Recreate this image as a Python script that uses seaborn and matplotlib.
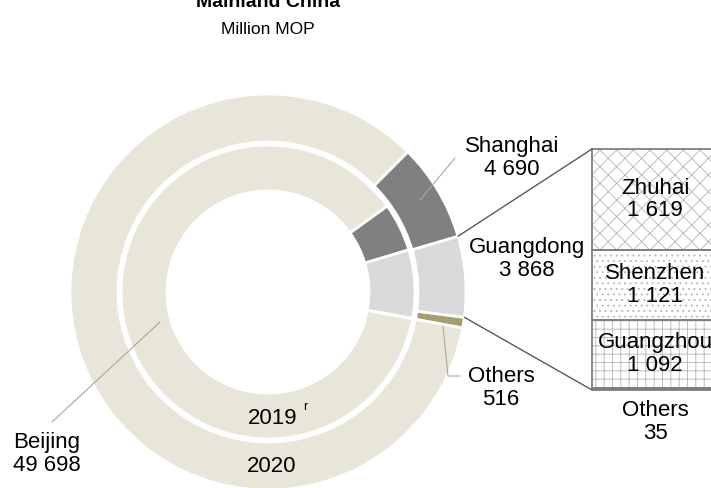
import numpy as np
import matplotlib
matplotlib.use("Agg")
import matplotlib.pyplot as plt
import seaborn as sns

# data
regions = ["Others", "Guangdong", "Shanghai", "Beijing"]
values_2020 = [516, 3868, 4690, 49698]
values_2019 = [25, 3750, 2650, 43500]   # estimated from the ring angles
region_colors = ["#A89F6E", "#D9D9D9", "#808080", "#E8E6D8"]

cities = ["Zhuhai", "Shenzhen", "Guangzhou", "Others"]
city_values = [1619, 1121, 1092, 35]
city_hatch = ["xx", "...", "++", ""]
city_fill = ["white", "white", "white", "#808080"]

def fmt(v):
    return f"{v:,}".replace(",", " ")

sns.set_theme(style="white")
plt.rcParams["font.family"] = ["Liberation Sans", "DejaVu Sans"]
plt.rcParams["text.color"] = "black"
plt.rcParams["hatch.linewidth"] = 0.6

W, H = 711, 488
fig = plt.figure(figsize=(W / 100, H / 100), dpi=100)
ax = fig.add_axes([0, 0, 1, 1])

cx, cy = 268, H - 292
start = -10.5

# outer ring = 2020, inner ring = 2019
ax.pie(values_2020, colors=region_colors, radius=198, center=(cx, cy),
       startangle=start, counterclock=True, frame=True,
       wedgeprops=dict(width=48, edgecolor="white", linewidth=2))
ax.pie(values_2019, colors=region_colors, radius=147, center=(cx, cy),
       startangle=start, counterclock=True, frame=True,
       wedgeprops=dict(width=46, edgecolor="white", linewidth=2))

# bar of pie
bar_x, bar_w = 655, 126
bar_bottom, bar_top = H - 390, H - 149
scale = (bar_top - bar_bottom) / sum(city_values)
heights = np.array(city_values[::-1]) * scale
bottoms = bar_bottom + np.concatenate([[0], np.cumsum(heights)[:-1]])
# hatch layer (light lines), then outline layer
ax.bar([bar_x] * 4, heights, bottom=bottoms, width=bar_w,
       color=city_fill[::-1], hatch=city_hatch[::-1],
       edgecolor="#b3b3b3", linewidth=0)
ax.bar([bar_x] * 4, heights, bottom=bottoms, width=bar_w,
       color="none", edgecolor="#7f7f7f", linewidth=1.3)

# connector lines from Guangdong slice to the bar
frac = np.cumsum(values_2020) / sum(values_2020)
a_low = np.deg2rad(start + frac[0] * 360)
a_high = np.deg2rad(start + frac[1] * 360)
ax.plot([cx + 198 * np.cos(a_high), bar_x - bar_w / 2], [cy + 198 * np.sin(a_high), bar_top],
        color="#595959", lw=1)
ax.plot([cx + 198 * np.cos(a_low), bar_x - bar_w / 2], [cy + 198 * np.sin(a_low), bar_bottom],
        color="#595959", lw=1)

fs = 16
# city labels
tops = bottoms + heights
for name, v, b, t in zip(cities[::-1], city_values[::-1], bottoms, tops):
    y = H - 422 if name == "Others" else (b + t) / 2
    ax.text(bar_x, y, f"{name}\n{fmt(v)}", ha="center", va="center",
            fontsize=fs, linespacing=1.1)

# region labels
lab_pos = {"Shanghai": (512, 158), "Guangdong": (527, 259),
           "Others": (501, 388), "Beijing": (47, 454)}
for name, v in zip(regions, values_2020):
    x, y = lab_pos[name]
    ax.text(x, H - y, f"{name}\n{fmt(v)}", ha="center", va="center",
            fontsize=fs, linespacing=1.1)

lc = "#a6a6a6"
ax.plot([455, 420], [H - 158, H - 200], color=lc, lw=0.8)
ax.plot([443, 448, 460], [H - 326, H - 376, H - 376], color=lc, lw=0.8)
ax.plot([52, 160], [H - 422, H - 322], color=lc, lw=0.8)

ax.text(273, H - 418, "2019", ha="center", va="center", fontsize=fs)
ax.text(305, H - 407, "r", ha="center", va="center", fontsize=9)
ax.text(272, H - 466, "2020", ha="center", va="center", fontsize=fs)

ax.text(268, H - 7, "Mainland China", ha="center", va="baseline",
        fontsize=14, fontweight="bold")
ax.text(268, H - 34, "Million MOP", ha="center", va="baseline", fontsize=12.5)

ax.set_xlim(0, W)
ax.set_ylim(0, H)
ax.set_aspect("equal")
ax.axis("off")

fig.savefig("out.png", dpi=100)
